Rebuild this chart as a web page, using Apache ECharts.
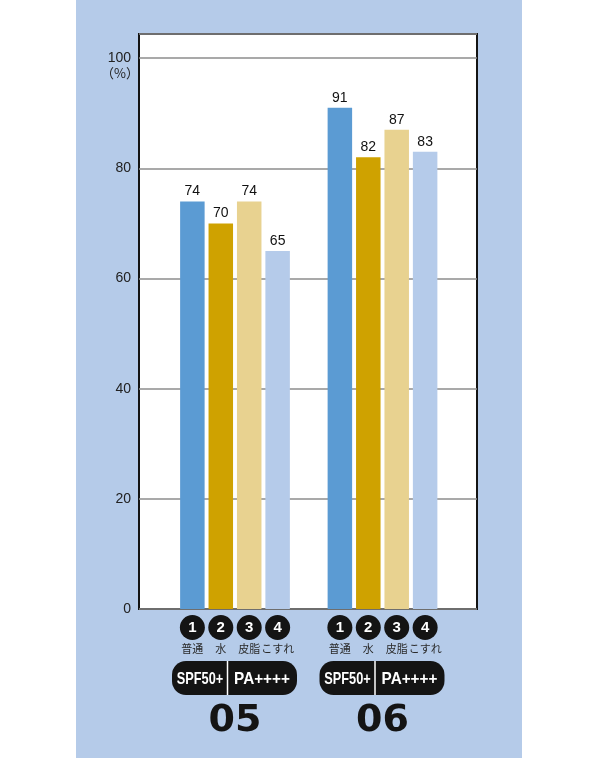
<!DOCTYPE html>
<html>
<head>
<meta charset="utf-8">
<script src="https://cdn.jsdelivr.net/npm/echarts@6/dist/echarts.min.js"></script>
<style>
  html, body { margin: 0; padding: 0; background: #fff; }
  #chart {
    width: 600px; height: 758px;
    background: linear-gradient(to right, #fff 0px, #fff 76px, #b5cbe9 76px, #b5cbe9 522px, #fff 522px);
  }
</style>
</head>
<body>
<div id="chart"></div>
<script>
// ---- data ----
const groups = ['05', '06'];
const conditions = ['普通', '水', '皮脂', 'こすれ'];
const conditionNumbers = ['1', '2', '3', '4'];
const ratings = ['SPF50+', 'PA++++'];
const normalValues = [74, 91];
const waterValues = [70, 82];
const sebumValues = [74, 87];
const rubValues = [65, 83];
const yTicks = [0, 20, 40, 60, 80, 100];
const unitLabel = '（%）';

const barColors = ['#5b9bd3', '#cfa200', '#e8d290', '#b5cbea'];
const seriesValues = [normalValues, waterValues, sebumValues, rubValues];

const BAR_W = 24.5;
const BAR_GAP = 0.16;

const chart = echarts.init(document.getElementById('chart'), null, { renderer: 'canvas' });

function renderBelow(params, api) {
  const idx = api.value(0);
  const p = api.coord([idx, 0]);
  const cx = p[0], y0 = p[1];
  const step = BAR_W * (1 + BAR_GAP);
  const children = [];
  for (let i = 0; i < 4; i++) {
    const bx = cx + (i - 1.5) * step;
    children.push({
      type: 'circle',
      shape: { cx: bx, cy: y0 + 18.5, r: 12.5 },
      style: { fill: '#141414' }
    });
    children.push({
      type: 'text',
      x: bx, y: y0 + 19,
      style: { text: conditionNumbers[i], fill: '#fff', font: 'bold 15px "Liberation Sans", Arial, sans-serif', align: 'center', verticalAlign: 'middle' }
    });
    children.push({
      type: 'text',
      x: bx, y: y0 + 40,
      style: { text: conditions[i], fill: '#2a2a2a', font: '11px "Noto Sans CJK JP", sans-serif', align: 'center', verticalAlign: 'middle' }
    });
  }
  children.push({
    type: 'rect',
    shape: { x: cx - 63, y: y0 + 52, width: 125, height: 34, r: 14 },
    style: { fill: '#141414' }
  });
  children.push({
    type: 'line',
    shape: { x1: cx - 7.5, y1: y0 + 52, x2: cx - 7.5, y2: y0 + 86 },
    style: { stroke: '#fff', lineWidth: 1.5 }
  });
  children.push({
    type: 'text',
    x: cx - 35, y: y0 + 70, scaleX: 0.75,
    style: { text: ratings[0], fill: '#fff', font: 'bold 17px "Liberation Sans", Arial, sans-serif', align: 'center', verticalAlign: 'middle' }
  });
  children.push({
    type: 'text',
    x: cx + 27, y: y0 + 70, scaleX: 0.9,
    style: { text: ratings[1], fill: '#fff', font: 'bold 17px "Liberation Sans", Arial, sans-serif', align: 'center', verticalAlign: 'middle' }
  });
  children.push({
    type: 'text',
    x: cx, y: y0 + 112,
    style: { text: groups[idx], fill: '#141414', font: 'bold 38px "DejaVu Sans", sans-serif', align: 'center', verticalAlign: 'middle' }
  });
  return { type: 'group', children: children };
}

const barSeries = seriesValues.map((vals, i) => ({
  type: 'bar',
  name: conditions[i],
  xAxisIndex: 1,
  yAxisIndex: 1,
  data: vals,
  barWidth: BAR_W,
  barGap: (BAR_GAP * 100) + '%',
  itemStyle: { color: barColors[i] },
  label: {
    show: true,
    position: 'top',
    distance: 3,
    color: '#111',
    fontSize: 14,
    fontFamily: '"Liberation Sans", Arial, sans-serif'
  },
  z: 3
}));

const option = {
  animation: false,
  backgroundColor: 'transparent',
  grid: [
    { left: 139, top: 34, width: 338, height: 575, show: true, backgroundColor: '#fff', borderColor: '#141414', borderWidth: 2, z: 0 },
    { left: 161.25, top: 34, width: 295, height: 575, show: false }
  ],
  xAxis: [
    { gridIndex: 0, type: 'value', min: 0, max: 1, show: false },
    { gridIndex: 1, type: 'category', data: groups, show: false }
  ],
  yAxis: [
    {
      gridIndex: 0, type: 'value', min: 0, max: 104.4, interval: 20,
      axisLine: { show: false }, axisTick: { show: false },
      axisLabel: {
        showMaxLabel: false,
        margin: 8,
        color: '#222', fontSize: 14, fontFamily: '"Liberation Sans", Arial, sans-serif',
        formatter: v => (yTicks.indexOf(v) >= 0 ? String(v) : '')
      },
      splitLine: { show: true, lineStyle: { color: '#8c8c8c', width: 1.5 } }
    },
    { gridIndex: 1, type: 'value', min: 0, max: 104.4, show: false }
  ],
  graphic: [
    {
      type: 'text', x: 120, y: 73,
      style: { text: unitLabel, fill: '#222', font: '13px "Noto Sans CJK JP", sans-serif', align: 'center', verticalAlign: 'middle' }
    }
  ],
  series: barSeries.concat([{
    type: 'custom',
    xAxisIndex: 1,
    yAxisIndex: 1,
    clip: false,
    silent: true,
    renderItem: renderBelow,
    encode: { x: 0, y: 1 },
    data: groups.map((g, i) => [i, 0]),
    z: 5
  }])
};

chart.setOption(option);
</script>
</body>
</html>
